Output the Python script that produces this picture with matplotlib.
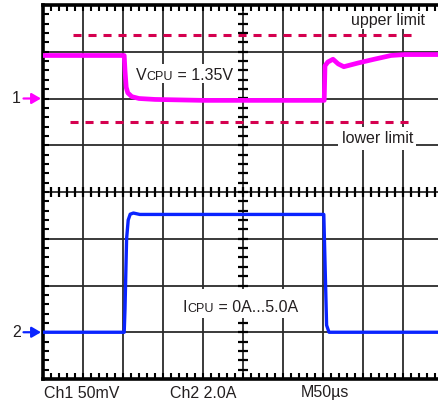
import matplotlib
matplotlib.use("Agg")
import matplotlib.pyplot as plt
import numpy as np
from matplotlib.offsetbox import TextArea, HPacker, AnnotationBbox
from matplotlib.patches import Rectangle

plt.rcParams['font.family'] = ['Liberation Sans', 'DejaVu Sans']
plt.rcParams['lines.scale_dashes'] = False

# ---------------- data ----------------
time_per_div_us = 50
ch1_mv_per_div = 50
ch2_a_per_div = 2.0
ch1_ref_div = 6.0      # channel 1 ground marker (divisions from bottom)
ch2_ref_div = 1.0      # channel 2 ground marker

ch1_time_us = [0, 101.5, 102.5, 104, 106, 111, 120, 140, 200, 270, 351.5,
               352.5, 356, 362.5, 369, 376, 394, 414, 435, 452, 494]
ch1_vcpu_mv = [46, 46, 30, 12, 6, 2, 0, -1, -2, -2, -2,
               35, 39, 42, 37, 34, 38, 42, 46, 47, 47]

ch2_time_us = [0, 101.5, 102.5, 104.5, 106.5, 109, 113, 121, 200, 300, 351,
               352.5, 354.5, 357.5, 494]
ch2_icpu_a = [0, 0, 1.0, 4.0, 4.8, 5.05, 5.1, 5.04, 5.04, 5.04, 5.04,
              3.0, 0.3, 0, 0]

upper_limit_mv = 68
lower_limit_mv = -25
upper_span_us = [37, 466]
lower_span_us = [34, 462]

bottom_labels = ["Ch1 50mV", "Ch2 2.0A", "M50\u00b5s"]
limit_labels = ["upper limit", "lower limit"]

# ---------------- layout ----------------
W, H = 438, 404
X0, Y0, YB = 43, 5, 379          # graticule left, top, bottom (pixels)
DX = 40.0                         # px per horizontal division
DY = (YB - Y0) / 8.0              # px per vertical division

fig = plt.figure(figsize=(W / 100, H / 100), dpi=100)
ax = fig.add_axes([X0 / W, (H - YB) / H, (W - X0) / W, (YB - Y0) / H])
xmax = (W - X0) / DX * time_per_div_us
ax.set_xlim(0, xmax)
ax.set_ylim(0, 8)


def px(x, y):
    """image pixel -> data coordinates"""
    return (x - X0) / DX * time_per_div_us, (YB - y) / DY


txt_col = '#231f20'
grid_col = '#2b2b2b'
mag = '#ff00ff'
blue = '#0a24ff'
dash_col = '#d5004f'
fs = 11.5

# graticule
for k in range(1, 10):
    ax.axvline(k * time_per_div_us, color=grid_col, lw=1.3, zorder=1)
for j in range(1, 8):
    ax.axhline(j, color=grid_col, lw=1.3, zorder=1)

for s in ['left', 'top', 'bottom']:
    ax.spines[s].set_linewidth(2.6)
    ax.spines[s].set_color('black')
ax.spines['right'].set_visible(False)

ax.set_xticks(np.arange(0, xmax, 10))
ax.set_yticks(np.arange(0, 8.001, 0.2))
ax.tick_params(direction='in', length=4, width=1.5, color='black',
               labelbottom=False, labelleft=False, top=True, right=False)

xs = np.arange(10, xmax, 10)
ax.plot(xs, np.full_like(xs, 4.0), ls='none', marker='|', ms=6.5, mew=1.6,
        color='black', zorder=2)
ys = np.arange(0.2, 8, 0.2)
ax.plot(np.full_like(ys, 5 * time_per_div_us), ys, ls='none', marker='_',
        ms=6.5, mew=1.6, color='black', zorder=2)

# limit lines
ax.plot(upper_span_us, [ch1_ref_div + upper_limit_mv / ch1_mv_per_div] * 2,
        color=dash_col, lw=2.2, dashes=(5.8, 5.0), zorder=2.6)
ax.plot(lower_span_us, [ch1_ref_div + lower_limit_mv / ch1_mv_per_div] * 2,
        color=dash_col, lw=2.2, dashes=(5.8, 5.0), zorder=2.6)

# white boxes behind the labels
for (x1, y1, x2, y2) in [(346, 11, 430, 29), (338, 127, 416, 150),
                         (130, 64, 237, 83), (177, 289, 301, 318)]:
    a = px(x1, y2)
    b = px(x2, y1)
    ax.add_patch(Rectangle(a, b[0] - a[0], b[1] - a[1], facecolor='white',
                           edgecolor='none', zorder=3))

# traces
ch1_y = ch1_ref_div + np.array(ch1_vcpu_mv) / ch1_mv_per_div
ch2_y = ch2_ref_div + np.array(ch2_icpu_a) / ch2_a_per_div
ax.plot(ch1_time_us, ch1_y, color=mag, lw=3.4, zorder=4, solid_joinstyle='round')
ax.plot(ch2_time_us, ch2_y, color=blue, lw=2.4, zorder=4, solid_joinstyle='round')

# labels
ax.text(*px(351, 25.5), limit_labels[0], fontsize=fs, color=txt_col,
        ha='left', va='baseline', zorder=5)
ax.text(*px(342, 143), limit_labels[1], fontsize=fs, color=txt_col,
        ha='left', va='baseline', zorder=5)


def sc_label(big, small, rest, xy):
    parts = [TextArea(big, textprops=dict(fontsize=fs, color=txt_col)),
             TextArea(small, textprops=dict(fontsize=fs * 0.78, color=txt_col)),
             TextArea(rest, textprops=dict(fontsize=fs, color=txt_col))]
    pack = HPacker(children=parts, align='baseline', pad=0, sep=0)
    ab = AnnotationBbox(pack, xy, xycoords='data', box_alignment=(0, 0.5),
                        frameon=False, pad=0, zorder=5, annotation_clip=False)
    ax.add_artist(ab)


sc_label('V', 'CPU', ' = 1.35V', px(136, 75.5))
sc_label('I', 'CPU', ' = 0A...5.0A', px(182.5, 307.5))

for lab, x in zip(bottom_labels, [44, 169.5, 300.5]):
    ax.text(*px(x, 397.5), lab, fontsize=fs, color=txt_col, ha='left',
            va='baseline', clip_on=False)

# channel markers
for num, ref, col in [('1', ch1_ref_div, mag), ('2', ch2_ref_div, blue)]:
    yp = YB - ref * DY
    ax.text(*px(21, yp), num, fontsize=fs, color=txt_col, ha='right',
            va='center', clip_on=False)
    ax.annotate('', xy=px(41, yp), xytext=px(23.5, yp), xycoords='data',
                textcoords='data', annotation_clip=False,
                arrowprops=dict(arrowstyle='-|>,head_length=0.55,head_width=0.32',
                                color=col, lw=1.6, mutation_scale=10,
                                shrinkA=0, shrinkB=0))

fig.savefig('out.png', dpi=100)
